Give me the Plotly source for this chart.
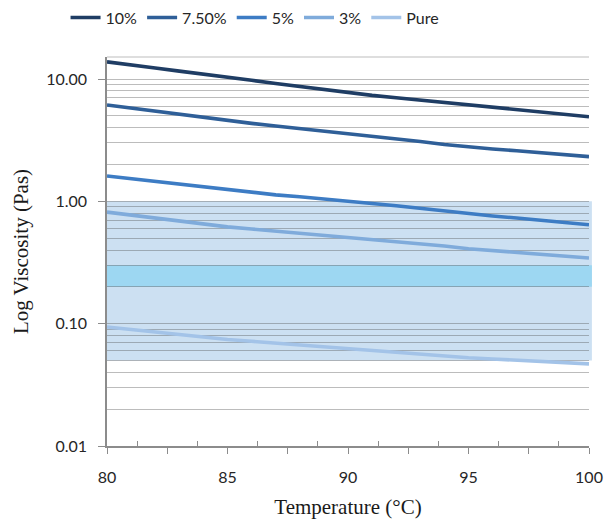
import plotly.graph_objects as go

temps = list(range(80, 101))

v10 = [13.8, 13.1, 12.3, 11.6, 11.0, 10.4, 9.77, 9.18, 8.65, 8.15, 7.67,
       7.35, 7.03, 6.73, 6.44, 6.17, 5.89, 5.64, 5.38, 5.15, 4.92]
v75 = [6.14, 5.78, 5.44, 5.12, 4.82, 4.55, 4.34, 4.13, 3.94, 3.76, 3.58,
       3.40, 3.24, 3.08, 2.92, 2.78, 2.68, 2.59, 2.49, 2.41, 2.32]
v5 = [1.61, 1.53, 1.45, 1.37, 1.30, 1.23, 1.18, 1.13, 1.09, 1.05, 1.00,
      0.96, 0.92, 0.875, 0.83, 0.79, 0.76, 0.73, 0.70, 0.67, 0.643]
v3 = [0.817, 0.771, 0.730, 0.690, 0.652, 0.618, 0.594, 0.571, 0.551, 0.531, 0.511,
      0.490, 0.470, 0.451, 0.431, 0.410, 0.396, 0.382, 0.369, 0.356, 0.344]
vpure = [0.094, 0.0895, 0.0855, 0.0817, 0.0778, 0.0743, 0.0718, 0.0693, 0.0668, 0.0646, 0.0624,
         0.0604, 0.0583, 0.0564, 0.0545, 0.0526, 0.0514, 0.0502, 0.0491, 0.0480, 0.0469]

series_names = ["10%", "7.50%", "5%", "3%", "Pure"]
series_values = [v10, v75, v5, v3, vpure]
series_colors = ["#1f3d64", "#2f5f98", "#3d7cc4", "#7fabdb", "#a3c3e8"]

y_tickvals = [0.01, 0.1, 1, 10]
y_ticktext = ["0.01", "0.10", "1.00", "10.00"]
x_tickvals = [80, 82.5, 85, 87.5, 90, 92.5, 95, 97.5, 100]
x_ticktext = ["80", "", "85", "", "90", "", "95", "", "100"]
x_minorvals = [81.25, 83.75, 86.25, 88.75, 91.25, 93.75, 96.25, 98.75]
y_minorvals = [m * d for d in (0.01, 0.1, 1, 10) for m in range(2, 10)]

band_outer = (0.05, 1.0)
band_inner = (0.2, 0.3)

grid_col = "rgba(80,80,80,0.38)"
axis_col = "#8c8c8c"
tick_font = dict(family="Lato, Liberation Sans, sans-serif", size=16, color="#262626")
title_font = dict(family="Liberation Serif, Times New Roman, serif", size=21, color="#1a1a1a")

fig = go.Figure()
for name, vals, col in zip(series_names, series_values, series_colors):
    fig.add_trace(go.Scatter(x=temps, y=vals, name=name, mode="lines",
                             line=dict(color=col, width=3.6)))

fig.add_shape(type="rect", xref="paper", yref="y", x0=0, x1=1.006,
              y0=band_outer[0], y1=band_outer[1], fillcolor="#cce0f2",
              line=dict(width=0), layer="below")
fig.add_shape(type="rect", xref="paper", yref="y", x0=0, x1=1.006,
              y0=band_inner[0], y1=band_inner[1], fillcolor="#9dd7f2",
              line=dict(width=0), layer="below")
fig.add_shape(type="line", xref="paper", yref="paper", x0=0, x1=1.0, y0=1, y1=1,
              line=dict(color=grid_col, width=1), layer="below")

fig.update_layout(
    width=605, height=524,
    margin=dict(l=107, r=16, t=57, b=78, autoexpand=False),
    paper_bgcolor="white", plot_bgcolor="white",
    showlegend=True,
    legend=dict(orientation="h", x=-0.086, xanchor="left", y=1.145, yanchor="top",
                font=tick_font, itemwidth=30, tracegroupgap=0,
                bgcolor="rgba(0,0,0,0)"),
    xaxis=dict(
        range=[80, 100], tickmode="array", tickvals=x_tickvals, ticktext=x_ticktext,
        ticks="outside", ticklen=6, tickcolor=axis_col, tickwidth=1,
        showline=True, linecolor=axis_col, linewidth=1.5, showgrid=False, zeroline=False,
        tickfont=tick_font, ticklabelstandoff=10, automargin=False,
        minor=dict(tickmode="array", tickvals=x_minorvals, ticks="inside", ticklen=5,
                   tickcolor=axis_col, showgrid=False),
        title=dict(text="Temperature (°C)", font=title_font, standoff=14),
    ),
    yaxis=dict(
        type="log", range=[-2, 1.18], tickmode="array", tickvals=y_tickvals, ticktext=y_ticktext,
        ticks="outside", ticklen=7, tickcolor=axis_col, tickwidth=1,
        showline=True, linecolor=axis_col, linewidth=1.5,
        showgrid=True, gridcolor=grid_col, gridwidth=1, zeroline=False,
        tickfont=tick_font, ticklabelstandoff=8, automargin=False,
        minor=dict(tickmode="array", tickvals=y_minorvals, ticks="", showgrid=True,
                   gridcolor=grid_col, gridwidth=1),
        title=dict(text="Log Viscosity (Pas)", font=title_font, standoff=12),
    ),
)

fig.write_html(
    "out.html",
    config={"displayModeBar": False},
    post_script="document.body.style.margin='0';document.body.style.overflow='hidden';",
)
